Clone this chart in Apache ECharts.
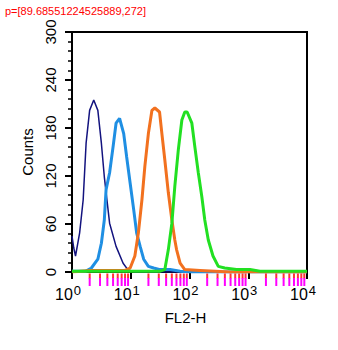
<!DOCTYPE html>
<html>
<head>
<meta charset="utf-8">
<script src="https://cdn.jsdelivr.net/npm/echarts@6/dist/echarts.min.js"></script>
<style>
  html, body { margin: 0; padding: 0; background: #fff; }
  #chart { width: 338px; height: 350px; }
</style>
</head>
<body>
<div id="chart"></div>
<script>
// x positions are in decades of FL2-H (log10), counts on y
var navyX = [0, 0.03, 0.06, 0.13, 0.19, 0.24, 0.30, 0.37, 0.44, 0.50, 0.55, 0.64, 0.75, 0.87, 0.95, 1.07, 4];
var navyY = [45, 30, 20, 49, 90, 161, 202, 215, 202, 161, 119, 61, 32, 11, 3, 0, 0];

var blueX = [0, 0.23, 0.33, 0.44, 0.50, 0.55, 0.58, 0.64, 0.70, 0.75, 0.81, 0.88, 0.93, 0.99, 1.05, 1.10, 1.16, 1.22, 1.30, 1.39, 1.50, 1.67, 1.84, 2.01, 4];
var blueY = [1, 1, 5, 16, 36, 65, 103, 124, 157, 186, 192, 173, 144, 111, 78, 49, 32, 16, 7, 5, 3, 3, 1, 0, 0];

var orangeX = [0, 0.31, 0.65, 0.90, 0.99, 1.07, 1.13, 1.19, 1.24, 1.30, 1.36, 1.41, 1.49, 1.53, 1.58, 1.64, 1.70, 1.75, 1.78, 1.84, 1.92, 2.18, 2.69, 4];
var orangeY = [0, 2, 2, 2, 5, 20, 49, 90, 132, 173, 202, 205, 200, 173, 140, 99, 65, 40, 28, 11, 3, 2, 0, 0];

var greenX = [0, 1.50, 1.58, 1.64, 1.70, 1.75, 1.81, 1.87, 1.92, 1.96, 2.04, 2.09, 2.15, 2.21, 2.26, 2.32, 2.40, 2.49, 2.60, 2.80, 3.03, 3.20, 4];
var greenY = [1, 1, 3, 28, 61, 107, 153, 190, 200, 200, 186, 157, 124, 94, 65, 40, 20, 7, 5, 3, 3, 1, 1];

// minor ticks at 2..9 inside each decade
var minorTicks = [];
[0, 1, 2, 3].forEach(function(d) {
  for (var k = 2; k <= 9; k++) minorTicks.push(d + Math.log10(k));
});

function pairs(xs, ys) {
  return xs.map(function(x, i) { return [x, ys[i]]; });
}

var chart = echarts.init(document.getElementById('chart'), null, { renderer: 'svg' });
var font = 'Liberation Sans, Arial, sans-serif';

function curve(data, color, width) {
  return {
    type: 'line',
    data: data,
    symbol: 'none',
    lineStyle: { color: color, width: width }
  };
}

chart.setOption({
  animation: false,
  grid: {
    left: 72, right: 31, top: 32, bottom: 78,
    show: true, borderColor: '#000', borderWidth: 2
  },
  xAxis: {
    type: 'value', min: 0, max: 4, interval: 1,
    name: 'FL2-H', nameLocation: 'middle', nameGap: 30,
    nameTextStyle: { color: '#000', fontSize: 15, fontFamily: font, padding: [0, 8, 0, 0] },
    axisLine: { lineStyle: { color: '#000', width: 2 } },
    axisTick: { length: 7, lineStyle: { color: '#000', width: 2 } },
    splitLine: { show: false },
    axisLabel: {
      margin: 12,
      padding: [0, 8, 0, 0],
      formatter: function(v) { return '{b|10}{e|' + v + '}'; },
      rich: {
        b: { fontSize: 16, color: '#000', fontFamily: font, verticalAlign: 'bottom', lineHeight: 18 },
        e: { fontSize: 13, color: '#000', fontFamily: font, verticalAlign: 'top', lineHeight: 13, padding: [0, 0, 8, 1] }
      }
    }
  },
  yAxis: {
    type: 'value', min: 0, max: 300, interval: 60,
    name: 'Counts', nameLocation: 'middle', nameGap: 34,
    nameTextStyle: { color: '#000', fontSize: 15, fontFamily: font },
    axisLine: { show: true, lineStyle: { color: '#000', width: 2 } },
    axisTick: { show: true, length: 7, lineStyle: { color: '#000', width: 2 } },
    minorTick: { show: true, splitNumber: 5, length: 4, lineStyle: { color: '#000', width: 1.5 } },
    splitLine: { show: false },
    axisLabel: { rotate: 90, margin: 14, color: '#000', fontSize: 15, fontFamily: font }
  },
  series: [
    curve(pairs(navyX, navyY), '#13137f', 1.5),
    curve(pairs(blueX, blueY), '#1f8fe3', 3),
    curve(pairs(orangeX, orangeY), '#f2711f', 3),
    curve(pairs(greenX, greenY), '#22e022', 3),
    {
      type: 'scatter',
      data: minorTicks.map(function(v) { return [v, 0]; }),
      symbol: 'rect',
      symbolSize: [2, 5],
      symbolOffset: [0, 4],
      itemStyle: { color: 'red' },
      clip: false,
      z: 5
    }
  ]
});

var tickGraphics = minorTicks.map(function(v) {
  var p = chart.convertToPixel({ gridIndex: 0 }, [v, 0]);
  return {
    type: 'line',
    silent: true,
    z: 100,
    shape: { x1: p[0], y1: p[1] + 6, x2: p[0], y2: p[1] + 14 },
    style: { stroke: 'magenta', lineWidth: 2 }
  };
});
tickGraphics.push({
  type: 'text', left: 5, top: 5, z: 100,
  style: { text: 'p=' + JSON.stringify(chart.convertToPixel({ gridIndex: 0 }, [minorTicks[0], 0])), fontSize: 11, fill: 'red' }
});
chart.setOption({ graphic: tickGraphics });
</script>
</body>
</html>
